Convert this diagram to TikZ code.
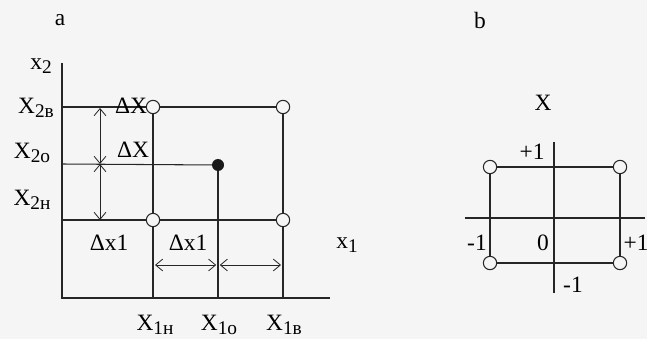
\documentclass[tikz,border=0pt]{standalone}
\usepackage{fontspec}
\setmainfont{Liberation Serif}
\usetikzlibrary{arrows.meta}
\newcommand\lowtxt[1]{\raisebox{-0.35ex}{\fontsize{16.5}{19}\selectfont #1}}
\begin{document}
\begin{tikzpicture}[x=0.03cm, y=-0.03cm,
  %% grid and axis lines
  gline/.style={line width=0.9pt, black!85},
  %% open and filled level points
  opendot/.style={circle, draw=black!85, line width=0.9pt, fill=gray!8,
                  inner sep=0pt, minimum size=0.4cm},
  fulldot/.style={circle, fill=black!90, inner sep=0pt, minimum size=0.36cm},
  %% interval arrows
  dimarr/.style={{Straight Barb[length=6pt,width=10pt]}-{Straight Barb[length=6pt,width=10pt]},
                 line width=0.7pt, black!85},
  lbl/.style={font=\fontsize{20}{24}\selectfont, inner sep=1pt}
]
\fill[gray!8] (0,0) rectangle (647,339);
\useasboundingbox (0,0) rectangle (647,339);

%% ── a: factor levels on the x1, x2 plane ────────────────────────────
\coordinate (orig) at (62,298);
\coordinate (ytop) at (62,63);
\coordinate (xend) at (330,298);
\coordinate (y2B)  at (62,107);
\coordinate (y2o)  at (62,164);
\coordinate (y2H)  at (62,220);

\node[opendot] (HB) at (153,107) {};
\node[opendot] (BB) at (283,107) {};
\node[opendot] (HH) at (153,220) {};
\node[opendot] (BH) at (283,220) {};
\node[fulldot] (oo) at (218,165) {};

\draw[gline] (ytop) -- (orig) -- (xend);
\draw[gline] (y2B) -- (HB) -- (BB);
\draw[gline] (y2H) -- (HH) -- (BH);
\draw[gline] (y2o) -- (oo);
\draw[gline] (HB) -- (HH) -- (HB |- orig);
\draw[gline] (BB) -- (BH) -- (BB |- orig);
\draw[gline] (oo) -- (oo |- orig);

%% interval arrows
\coordinate (dB) at (100,108);
\coordinate (dO) at (100,164);
\coordinate (dH) at (100,220);
\draw[dimarr] (dB) -- (dO);
\draw[dimarr] (dO) -- (dH);
\coordinate (hL) at (155,265);
\coordinate (hM) at (218,265);
\coordinate (hR) at (281,265);
\draw[dimarr] (hL) -- ([xshift=-1.5pt]hM);
\draw[dimarr] ([xshift=1.5pt]hM) -- (hR);

%% labels
\node[lbl] (lbla) at (60,20) {a};
\node[lbl] (lblx2) at (41,66) {x\lowtxt{2}};
\node[lbl] (lblx1) at (347,245) {x\lowtxt{1}};
\node[lbl] (l2B) at (36,108) {X\lowtxt{2в}};
\node[lbl] (l2o) at (32,153) {X\lowtxt{2о}};
\node[lbl] (l2H) at (32,200) {X\lowtxt{2н}};
\node[lbl] (dX1) at (131,106) {ΔX};
\node[lbl] (dX2) at (133,150) {ΔX};
\node[lbl] (dx1a) at (109,243) {Δx1};
\node[lbl] (dx1b) at (188,243) {Δx1};
\node[lbl] (l1H) at (155,325) {X\lowtxt{1н}};
\node[lbl] (l1o) at (219,325) {X\lowtxt{1о}};
\node[lbl] (l1B) at (284,325) {X\lowtxt{1в}};

%% ── b: coded levels ─────────────────────────────────────────────────
\coordinate (bL) at (465,218);
\coordinate (bR) at (645,218);
\coordinate (bT) at (554,142);
\coordinate (bD) at (554,293);
\draw[gline] (bL) -- (bR);
\draw[gline] (bT) -- (bD);

\node[opendot] (c1) at (490,167) {};
\node[opendot] (c2) at (620,167) {};
\node[opendot] (c3) at (620,263) {};
\node[opendot] (c4) at (490,263) {};
\draw[gline] (c1) -- (c2) -- (c3) -- (c4) -- (c1);

\node[lbl] (lblb) at (480,20) {b};
\node[lbl] (lblX) at (543,103) {X};
\node[lbl] (pT) at (532,152) {+1};
\node[lbl] (mL) at (477,243) {-1};
\node[lbl] (zero) at (543,243) {0};
\node[lbl] (pR) at (636,243) {+1};
\node[lbl] (mD) at (573,285) {-1};
\end{tikzpicture}
\end{document}
